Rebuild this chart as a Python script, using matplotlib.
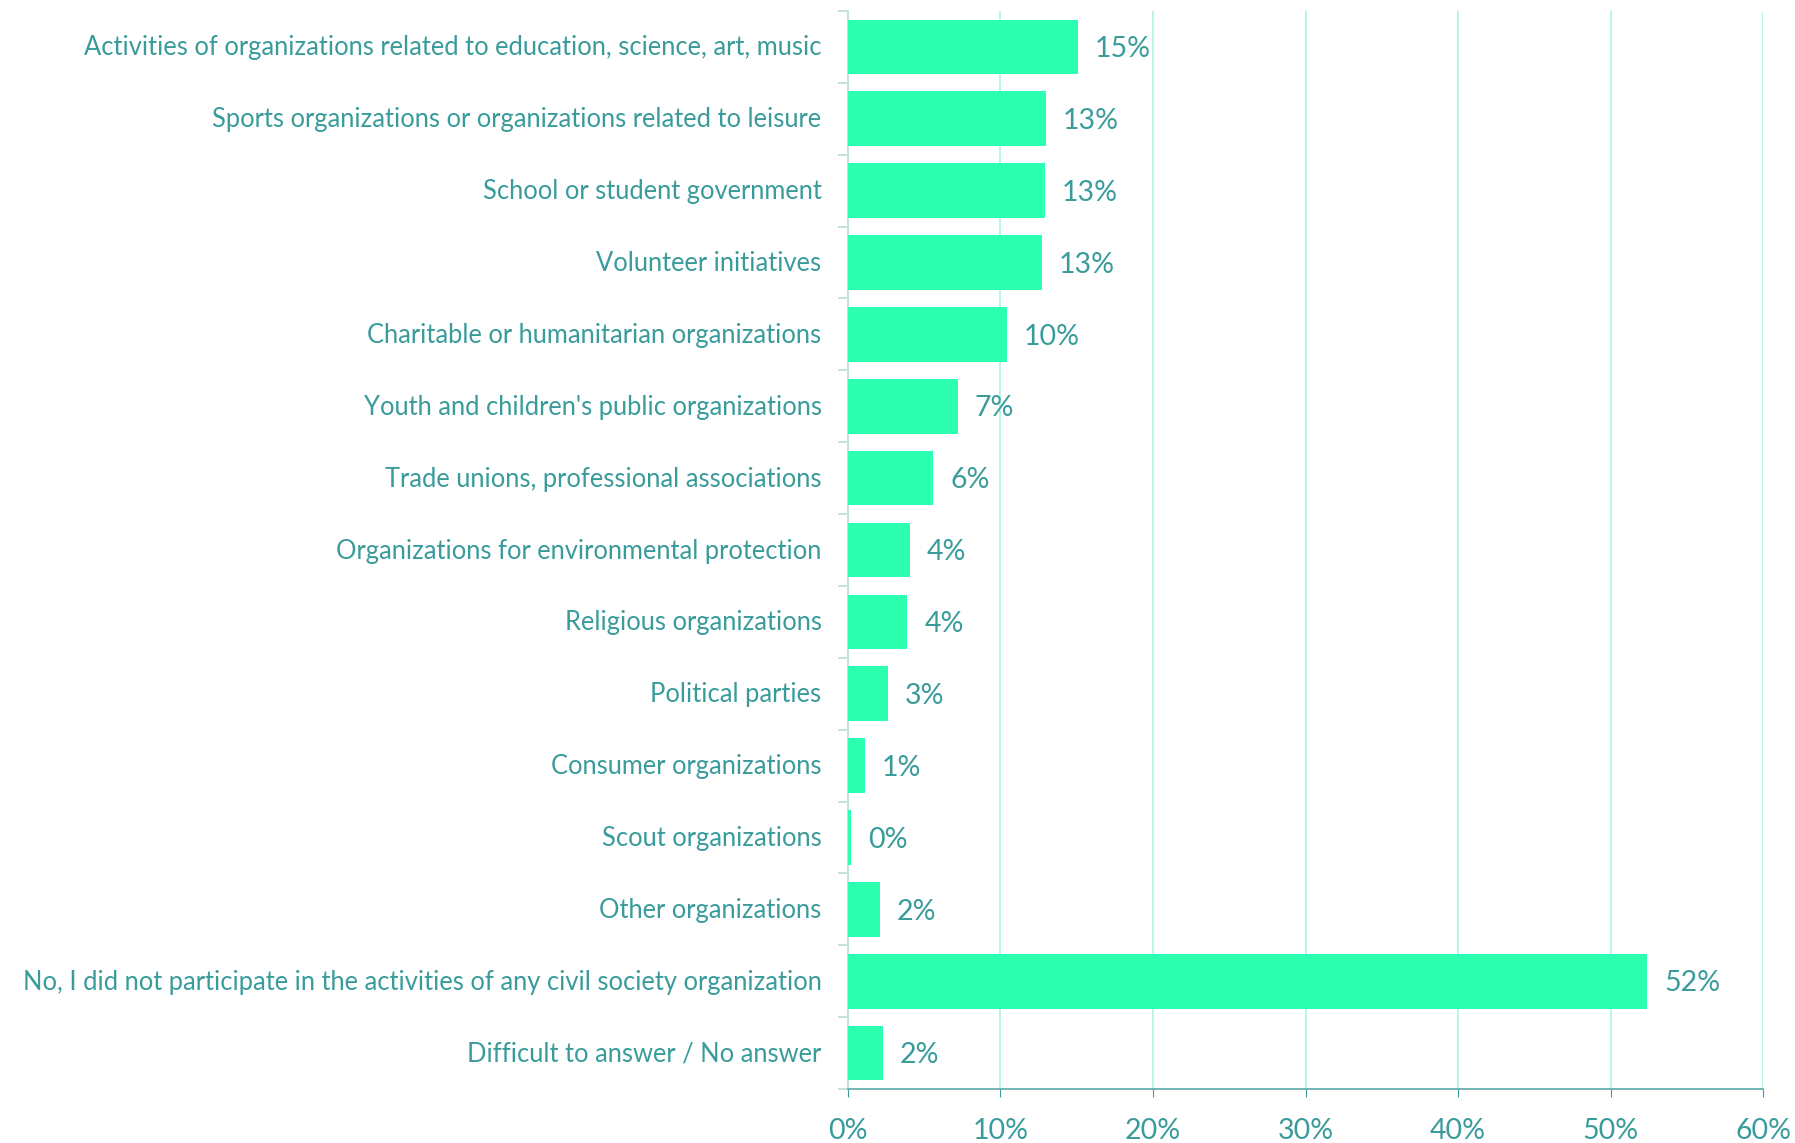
import numpy as np
import matplotlib
matplotlib.use('Agg')
import matplotlib.pyplot as plt
from matplotlib.ticker import FixedLocator

# data
categories = [
    "Activities of organizations related to education, science, art, music",
    "Sports organizations or organizations related to leisure",
    "School or student government",
    "Volunteer initiatives",
    "Charitable or humanitarian organizations",
    "Youth and children's public organizations",
    "Trade unions, professional associations",
    "Organizations for environmental protection",
    "Religious organizations",
    "Political parties",
    "Consumer organizations",
    "Scout organizations",
    "Other organizations",
    "No, I did not participate in the activities of any civil society organization",
    "Difficult to answer / No answer",
]
values = [15.1, 13.0, 12.9, 12.75, 10.4, 7.2, 5.6, 4.05, 3.9, 2.6, 1.1, 0.2, 2.1, 52.4, 2.3]
value_labels = ["15%", "13%", "13%", "13%", "10%", "7%", "6%", "4%", "4%", "3%",
                "1%", "0%", "2%", "52%", "2%"]
xticks = [0, 10, 20, 30, 40, 50, 60]
xtick_labels = ["0%", "10%", "20%", "30%", "40%", "50%", "60%"]

bar_color = "#2cffb0"
text_color = "#3a9b9b"
grid_color = "#aef3e3"

plt.rcParams['font.family'] = ['Lato', 'DejaVu Sans']

fig = plt.figure(figsize=(17.95, 11.43), dpi=100)
ax = fig.add_axes([0.4724, 0.0472, 0.5098, 0.9432])

n = len(categories)
y = np.arange(n)
ax.barh(y, values, height=0.76, color=bar_color, zorder=3)

for yi, v, lab in zip(y, values, value_labels):
    ax.text(v + 1.1, yi + 0.03, lab, va='center', ha='left', fontsize=20.5, color=text_color)

ax.set_ylim(n - 0.5, -0.5)
ax.set_xlim(0, 60)

ax.set_yticks(y - 0.02)
ax.set_yticklabels(categories, fontsize=18.4, color=text_color)
ax.tick_params(axis='y', which='major', length=0, pad=19)
ax.yaxis.set_minor_locator(FixedLocator(np.arange(-0.5, n, 1.0)))
ax.tick_params(axis='y', which='minor', length=7, color="#bcdcdc", width=1.2)

ax.set_xticks(xticks)
ax.set_xticklabels(xtick_labels, fontsize=20.5, color=text_color)
ax.tick_params(axis='x', length=6, color=text_color, pad=15)

ax.grid(axis='x', color=grid_color, linewidth=1.2, zorder=0)
for s in ['top', 'right']:
    ax.spines[s].set_visible(False)
ax.spines['left'].set_color("#c4e2e2")
ax.spines['left'].set_linewidth(1.5)
ax.spines['bottom'].set_color("#5aa8a8")
ax.spines['bottom'].set_linewidth(1.2)

fig.savefig("out.png", dpi=100)
